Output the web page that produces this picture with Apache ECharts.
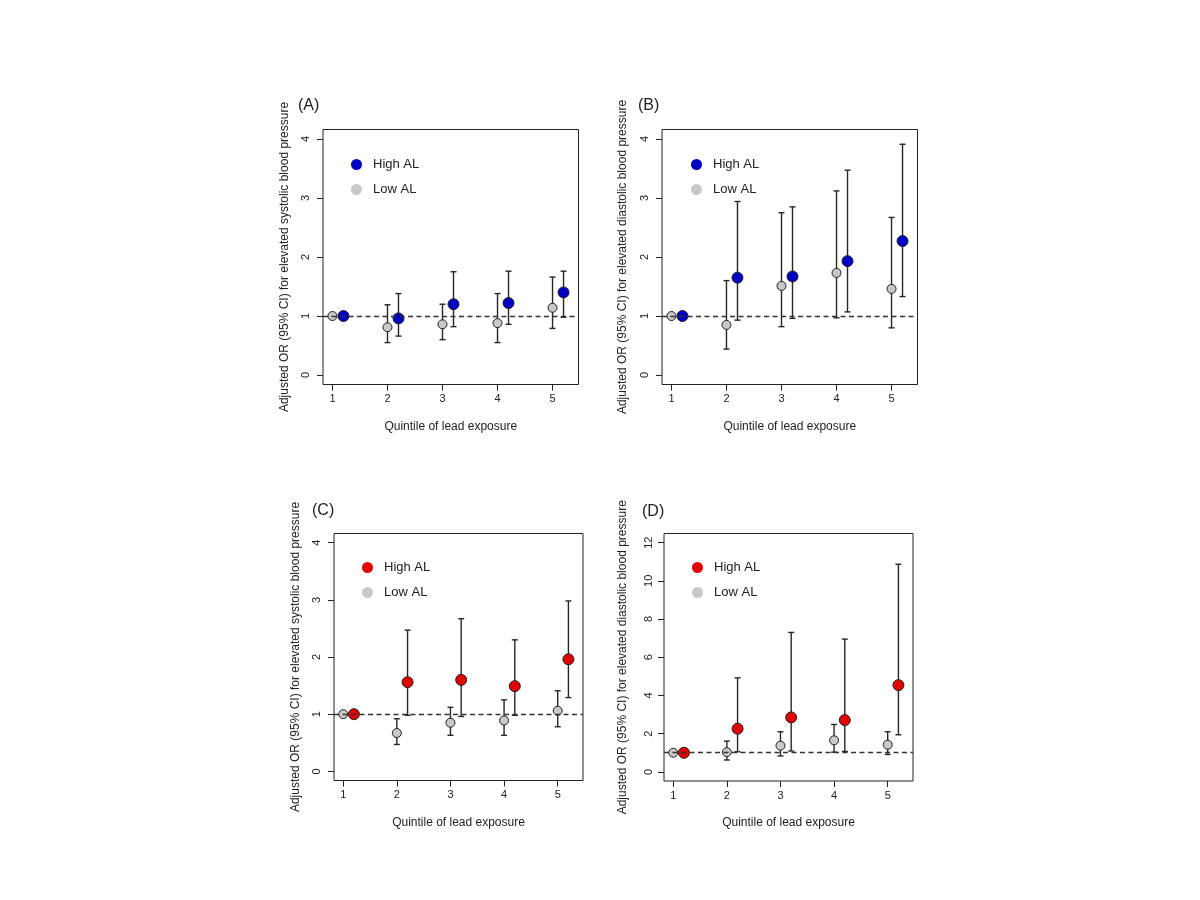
<!DOCTYPE html>
<html>
<head>
<meta charset="utf-8">
<style>
  html, body { margin: 0; padding: 0; background: #ffffff; }
  #chart { width: 1200px; height: 900px; }
</style>
<script src="https://cdn.jsdelivr.net/npm/echarts@6/dist/echarts.min.js"></script>
</head>
<body>
<div id="chart"></div>
<script>
// ---------- data ----------
const quintiles = [1, 2, 3, 4, 5];
const xTicks = [1, 2, 3, 4, 5];
const yTicksABC = [0, 1, 2, 3, 4];
const yTicksD = [0, 2, 4, 6, 8, 10, 12];
const seriesNames = ['High AL', 'Low AL'];
const panelLabels = ['(A)', '(B)', '(C)', '(D)'];
const yTitles = [
  'Adjusted OR (95% CI) for elevated systolic blood pressure',
  'Adjusted OR (95% CI) for elevated diastolic blood pressure',
  'Adjusted OR (95% CI) for elevated systolic blood pressure',
  'Adjusted OR (95% CI) for elevated diastolic blood pressure'
];
const xTitle = 'Quintile of lead exposure';

// Panel A
const lowA_or  = [1, 0.81, 0.86, 0.88, 1.14];
const lowA_lo  = [null, 0.55, 0.60, 0.55, 0.79];
const lowA_hi  = [null, 1.19, 1.20, 1.38, 1.66];
const highA_or = [1, 0.96, 1.20, 1.22, 1.40];
const highA_lo = [null, 0.66, 0.82, 0.86, 0.98];
const highA_hi = [null, 1.38, 1.75, 1.76, 1.76];
// Panel B
const lowB_or  = [1, 0.85, 1.51, 1.73, 1.46];
const lowB_lo  = [null, 0.44, 0.82, 0.97, 0.80];
const lowB_hi  = [null, 1.60, 2.75, 3.12, 2.67];
const highB_or = [1, 1.65, 1.67, 1.93, 2.27];
const highB_lo = [null, 0.93, 0.96, 1.07, 1.33];
const highB_hi = [null, 2.94, 2.85, 3.47, 3.91];
// Panel C
const lowC_or  = [1, 0.67, 0.85, 0.89, 1.06];
const lowC_lo  = [null, 0.47, 0.63, 0.63, 0.78];
const lowC_hi  = [null, 0.92, 1.12, 1.25, 1.41];
const highC_or = [1, 1.56, 1.60, 1.49, 1.96];
const highC_lo = [null, 0.98, 0.96, 0.98, 1.29];
const highC_hi = [null, 2.47, 2.67, 2.30, 2.98];
// Panel D
const lowD_or  = [1, 1.03, 1.37, 1.65, 1.42];
const lowD_lo  = [null, 0.62, 0.83, 1.03, 0.91];
const lowD_hi  = [null, 1.61, 2.10, 2.48, 2.10];
const highD_or = [1, 2.26, 2.85, 2.71, 4.54];
const highD_lo = [null, 1.05, 1.09, 1.07, 1.94];
const highD_hi = [null, 4.92, 7.30, 6.95, 10.87];

const referenceOR = 1;
const dodge = 0.2;          // High AL plotted at quintile + 0.2
const xLim = [1, 5.3];
const yLimABC = [0, 4];
const yLimD = [0, 12];

// ---------- layout / style ----------
const FONT = '"Liberation Sans", Arial, sans-serif';
const TXT = '#222';
const BLUE = '#0000c4';
const RED = '#e00000';
const GREY = '#c8c8c8';

const panels = [
  { grid: { left: 323, top: 129.5, width: 255.5, height: 255 }, ylim: yLimABC, yticks: yTicksABC, high: BLUE,
    low: [lowA_or, lowA_lo, lowA_hi], hi: [highA_or, highA_lo, highA_hi], label: [298, 98], legend: [351, 158], nameGap: 32, labMargin: 12 },
  { grid: { left: 662, top: 129.5, width: 255.5, height: 255 }, ylim: yLimABC, yticks: yTicksABC, high: BLUE,
    low: [lowB_or, lowB_lo, lowB_hi], hi: [highB_or, highB_lo, highB_hi], label: [638, 98], legend: [691, 158], nameGap: 33, labMargin: 12 },
  { grid: { left: 334, top: 533.5, width: 249, height: 247 }, ylim: yLimABC, yticks: yTicksABC, high: RED,
    low: [lowC_or, lowC_lo, lowC_hi], hi: [highC_or, highC_lo, highC_hi], label: [312, 503], legend: [362, 561], nameGap: 32, labMargin: 12 },
  { grid: { left: 664, top: 533.5, width: 249, height: 247.5 }, ylim: yLimD, yticks: yTicksD, high: RED,
    low: [lowD_or, lowD_lo, lowD_hi], hi: [highD_or, highD_lo, highD_hi], label: [642, 504], legend: [692, 561], nameGap: 35, labMargin: 10 }
];

function padded(lim) { const p = (lim[1] - lim[0]) * 0.04; return [lim[0] - p, lim[1] + p]; }

function errRender(params, api) {
  const x = api.value(0), lo = api.value(1), hi = api.value(2);
  const a = api.coord([x, lo]), b = api.coord([x, hi]);
  const cw = 3;
  const st = { stroke: '#262626', lineWidth: 1.4 };
  return { type: 'group', children: [
    { type: 'line', shape: { x1: a[0], y1: a[1], x2: b[0], y2: b[1] }, style: st },
    { type: 'line', shape: { x1: b[0] - cw, y1: b[1], x2: b[0] + cw, y2: b[1] }, style: st },
    { type: 'line', shape: { x1: a[0] - cw, y1: a[1], x2: a[0] + cw, y2: a[1] }, style: st }
  ]};
}

const grids = [], xAxes = [], yAxes = [], series = [], legends = [], titles = [];
const xl = padded(xLim);

panels.forEach((p, i) => {
  grids.push(Object.assign({ show: true, borderColor: '#222', borderWidth: 1, backgroundColor: 'transparent' }, p.grid));
  xAxes.push({
    type: 'value', gridIndex: i, min: xl[0], max: xl[1],
    name: xTitle, nameLocation: 'middle', nameGap: 36,
    nameTextStyle: { fontFamily: FONT, fontSize: 12, color: TXT },
    axisLine: { show: false, onZero: false }, splitLine: { show: false },
    axisTick: { show: true, length: 6, inside: false, customValues: xTicks, lineStyle: { color: '#222' } },
    axisLabel: { customValues: xTicks, margin: 9, fontFamily: FONT, fontSize: 11, color: TXT }
  });
  const yl = padded(p.ylim);
  yAxes.push({
    type: 'value', gridIndex: i, min: yl[0], max: yl[1],
    name: yTitles[i], nameLocation: 'middle', nameGap: p.nameGap, nameRotate: 90,
    nameTextStyle: { fontFamily: FONT, fontSize: 12, color: TXT },
    axisLine: { show: false, onZero: false }, splitLine: { show: false },
    axisTick: { show: true, length: 6, inside: false, customValues: p.yticks, lineStyle: { color: '#222' } },
    axisLabel: { customValues: p.yticks, rotate: 90, margin: p.labMargin, fontFamily: FONT, fontSize: 11, color: TXT }
  });

  // reference dashed line at OR = 1
  series.push({
    type: 'line', name: 'ref' + i, xAxisIndex: i, yAxisIndex: i, data: [], z: 1,
    markLine: { silent: true, symbol: 'none', animation: false, label: { show: false },
      lineStyle: { type: [5, 3.5], color: '#333', width: 1.3 }, data: [{ yAxis: referenceOR }] }
  });

  const lowBars = [], highBars = [], lowPts = [], highPts = [];
  quintiles.forEach((q, k) => {
    if (p.low[1][k] != null) lowBars.push([q, p.low[1][k], p.low[2][k]]);
    if (p.hi[1][k] != null) highBars.push([q + dodge, p.hi[1][k], p.hi[2][k]]);
    lowPts.push([q, p.low[0][k]]);
    highPts.push([q + dodge, p.hi[0][k]]);
  });
  series.push({ type: 'custom', name: 'errL' + i, xAxisIndex: i, yAxisIndex: i, renderItem: errRender,
    encode: { x: 0, y: [1, 2] }, data: lowBars, z: 2, silent: true });
  series.push({ type: 'custom', name: 'errH' + i, xAxisIndex: i, yAxisIndex: i, renderItem: errRender,
    encode: { x: 0, y: [1, 2] }, data: highBars, z: 2, silent: true });
  series.push({ type: 'scatter', name: 'Low AL', xAxisIndex: i, yAxisIndex: i, data: lowPts, z: 3,
    symbol: 'circle', symbolSize: 9, itemStyle: { color: GREY, borderColor: '#222', borderWidth: 1, opacity: 1 } });
  series.push({ type: 'scatter', name: 'High AL', xAxisIndex: i, yAxisIndex: i, data: highPts, z: 4,
    symbol: 'circle', symbolSize: 11, itemStyle: { color: p.high, borderColor: '#222', borderWidth: 1, opacity: 1 } });

  legends.push({
    left: p.legend[0], top: p.legend[1], orient: 'vertical', padding: 0, itemGap: 12,
    itemWidth: 11, itemHeight: 11, icon: 'circle', selectedMode: false,
    textStyle: { fontFamily: FONT, fontSize: 13, color: TXT, padding: [0, 0, 0, 6] },
    data: [
      { name: seriesNames[0], itemStyle: { color: p.high, borderWidth: 0 } },
      { name: seriesNames[1], itemStyle: { color: GREY, borderWidth: 0 } }
    ]
  });
  titles.push({ text: panelLabels[i], left: p.label[0], top: p.label[1], padding: 0,
    textStyle: { fontFamily: FONT, fontSize: 16, fontWeight: 'normal', color: TXT } });
});

const chart = echarts.init(document.getElementById('chart'), null, { renderer: 'canvas' });
chart.setOption({
  backgroundColor: '#ffffff',
  animation: false,
  title: titles,
  legend: legends,
  grid: grids,
  xAxis: xAxes,
  yAxis: yAxes,
  series: series
});
</script>
</body>
</html>
